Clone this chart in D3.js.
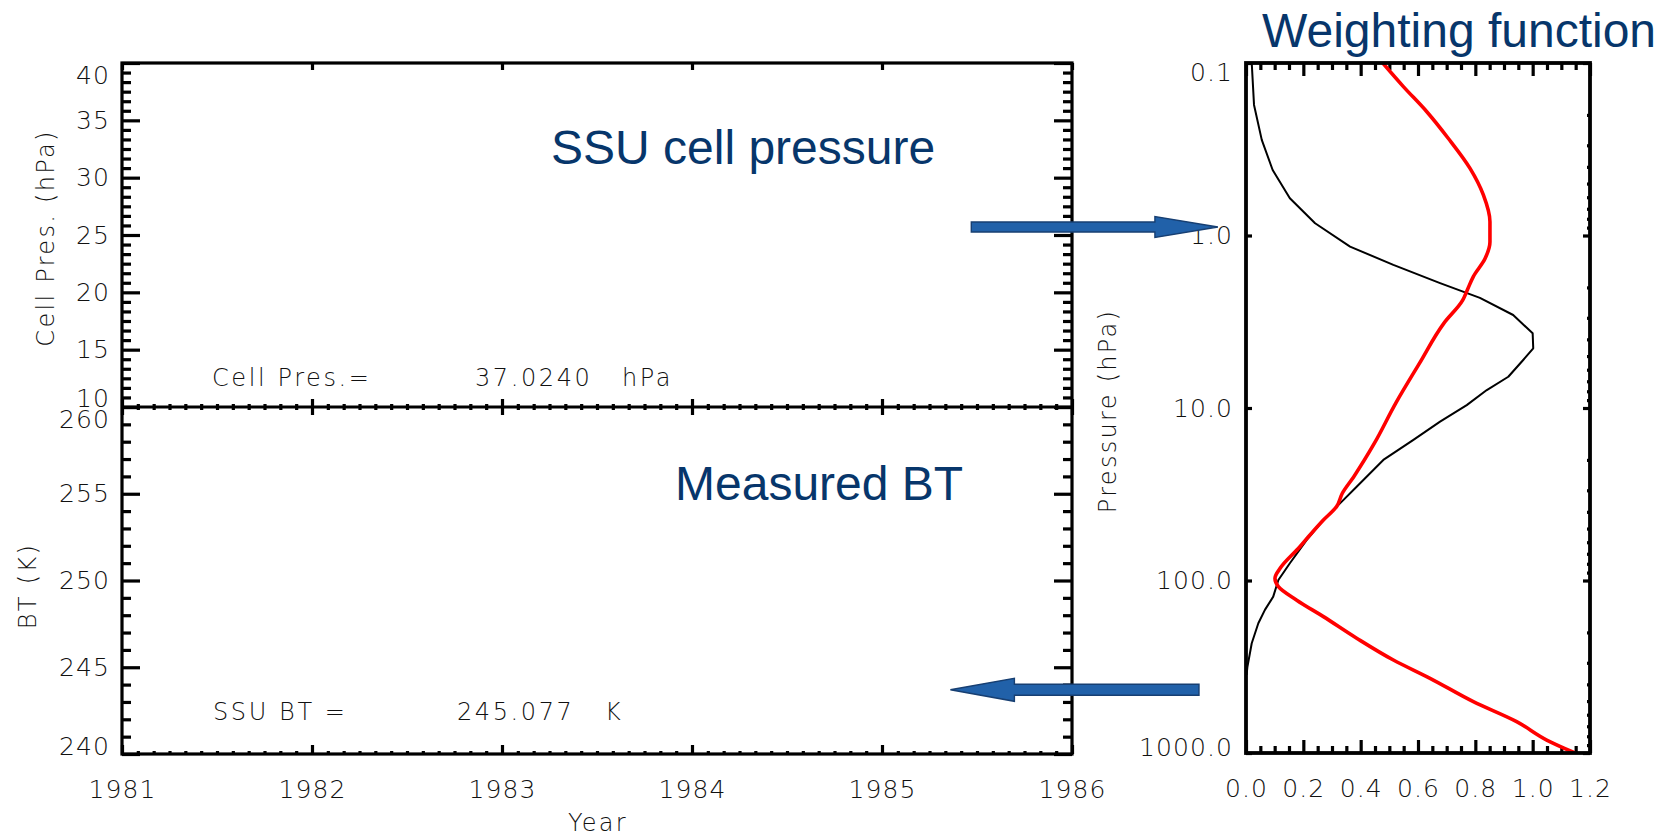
<!DOCTYPE html>
<html>
<head>
<meta charset="utf-8">
<script src="https://cdn.jsdelivr.net/npm/d3@7"></script>
<style>
  html, body { margin: 0; padding: 0; background: #fff; }
  svg { display: block; }
  .idl { font-family: "DejaVu Sans", sans-serif; font-weight: 200; fill: #111; }
  .title { font-family: "Liberation Sans", Arial, sans-serif; fill: #07366b; }
</style>
</head>
<body>
<svg id="chart" width="1664" height="839"></svg>
<script>
// ---- values ----
const yearTicks = [1981, 1982, 1983, 1984, 1985, 1986];
const cellTicks = [10, 15, 20, 25, 30, 35, 40];
const btTicks = [240, 245, 250, 255, 260];
const pressureTicks = [0.1, 1, 10, 100, 1000];
const weightTicks = [0, 0.2, 0.4, 0.6, 0.8, 1.0, 1.2];

const cellPressure = 37.0240;   // hPa
const ssuBT = 245.077;          // K

// black curve: channel weighting function (pressure hPa, weight)
const wfPres = [0.1, 0.175, 0.279, 0.417, 0.608, 0.849, 1.16, 1.48, 1.89, 2.30, 2.89, 3.69, 4.51, 5.27, 6.59, 7.87, 9.62, 12.0, 15.3, 20.0, 28.6, 35.7, 44.6, 58.2, 79.4, 99.4, 124, 148, 177, 231, 316, 353];
const wfValue = [0.020, 0.028, 0.055, 0.093, 0.153, 0.241, 0.363, 0.514, 0.677, 0.816, 0.932, 1.000, 1.002, 0.967, 0.915, 0.840, 0.770, 0.677, 0.584, 0.479, 0.386, 0.328, 0.270, 0.212, 0.153, 0.113, 0.095, 0.066, 0.043, 0.020, 0.005, 0.002];

// red curve: weighting function at the measured cell pressure
const rfPres = [0.1, 0.137, 0.191, 0.274, 0.407, 0.582, 0.832, 1.09, 1.36, 1.73, 2.07, 2.37, 3.23, 5.51, 9.40, 16.0, 25.0, 31.2, 37.3, 44.6, 54.5, 63.7, 85.0, 97.0, 108.6, 130, 162, 216, 289, 369, 504, 658, 841, 1000];
const rfValue = [0.477, 0.549, 0.630, 0.706, 0.781, 0.828, 0.851, 0.851, 0.834, 0.793, 0.772, 0.756, 0.690, 0.605, 0.522, 0.448, 0.376, 0.336, 0.316, 0.270, 0.223, 0.188, 0.119, 0.101, 0.113, 0.177, 0.270, 0.386, 0.514, 0.642, 0.793, 0.944, 1.049, 1.148];

// ---- layout ----
const svg = d3.select("#chart");
svg.append("rect").attr("width", 1664).attr("height", 839).attr("fill", "#fff");

const L = { left: 122, right: 1072, top: 63, mid: 407, bottom: 754 };
const R = { left: 1246, right: 1590, top: 63, bottom: 753 };

const xYear = d3.scaleLinear().domain([1981, 1986]).range([L.left, L.right]);
const yCell = d3.scaleLinear().domain([10, 40]).range([L.mid, L.top]);
const yBT = d3.scaleLinear().domain([240, 260]).range([L.bottom, L.mid]);
const xW = d3.scaleLinear().domain([0, 1.2]).range([R.left, R.right]);
const yP = d3.scaleLog().domain([0.1, 1000]).range([R.top, R.bottom]);

const AXW = 3.2;

function addAxis(gen, tx, ty, labelled) {
  const g = svg.append("g").attr("transform", `translate(${tx},${ty})`).call(gen);
  g.select(".domain").remove();
  g.selectAll(".tick line").attr("stroke", "#000").attr("stroke-width", AXW);
  if (!labelled) g.selectAll(".tick text").remove();
  else g.selectAll(".tick text").attr("class", "idl").attr("font-size", 25).attr("fill", "#111")
        .style("letter-spacing", "1.1px");
  return g;
}

// keep the end labels of a vertical axis inside the frame
function clampLabels(g, scale, lo, hi) {
  g.selectAll(".tick text").attr("y", d => {
    const y = scale(d);
    if (y < lo) return lo - y;
    if (y > hi) return hi - y;
    return 0;
  });
}

const noFmt = () => "";

// ---- left panels ----
const yearMinor = d3.range(1981, 1986.0001, 1 / 12).filter(v => Math.abs(v - Math.round(v)) > 1e-6);
const cellMinor = d3.range(0, 36).map(i => 10 + i * 5 / 6).filter(v => Math.abs(v / 5 - Math.round(v / 5)) > 1e-6);
const btMinor = d3.range(240, 261, 1).filter(v => v % 5 !== 0);

// upper panel y axes
let g = addAxis(d3.axisLeft(yCell).tickValues(cellTicks).tickSize(-18).tickPadding(12).tickFormat(d3.format("d")), L.left, 0, true);
clampLabels(g, yCell, L.top + 12, L.mid - 9);
addAxis(d3.axisLeft(yCell).tickValues(cellMinor).tickSize(-9).tickFormat(noFmt), L.left, 0, false);
addAxis(d3.axisRight(yCell).tickValues(cellTicks).tickSize(-18).tickFormat(noFmt), L.right, 0, false);
addAxis(d3.axisRight(yCell).tickValues(cellMinor).tickSize(-9).tickFormat(noFmt), L.right, 0, false);
// upper panel x axes
addAxis(d3.axisTop(xYear).tickValues(yearTicks).tickSize(-7).tickFormat(noFmt), 0, L.top, false);
addAxis(d3.axisBottom(xYear).tickValues(yearTicks).tickSize(-8).tickFormat(noFmt), 0, L.mid, false);
addAxis(d3.axisBottom(xYear).tickValues(yearMinor).tickSize(-3).tickFormat(noFmt), 0, L.mid, false);

// lower panel y axes
g = addAxis(d3.axisLeft(yBT).tickValues(btTicks).tickSize(-18).tickPadding(12).tickFormat(d3.format("d")), L.left, 0, true);
clampLabels(g, yBT, L.mid + 12, L.bottom - 8);
addAxis(d3.axisLeft(yBT).tickValues(btMinor).tickSize(-9).tickFormat(noFmt), L.left, 0, false);
addAxis(d3.axisRight(yBT).tickValues(btTicks).tickSize(-18).tickFormat(noFmt), L.right, 0, false);
addAxis(d3.axisRight(yBT).tickValues(btMinor).tickSize(-9).tickFormat(noFmt), L.right, 0, false);
// lower panel x axes
addAxis(d3.axisTop(xYear).tickValues(yearTicks).tickSize(-8).tickFormat(noFmt), 0, L.mid, false);
addAxis(d3.axisTop(xYear).tickValues(yearMinor).tickSize(-3).tickFormat(noFmt), 0, L.mid, false);
addAxis(d3.axisBottom(xYear).tickValues(yearTicks).tickSize(-9).tickPadding(26).tickFormat(d3.format("d")), 0, L.bottom, true);
addAxis(d3.axisBottom(xYear).tickValues(yearMinor).tickSize(-3).tickFormat(noFmt), 0, L.bottom, false);

// frames
svg.append("rect").attr("x", L.left).attr("y", L.top).attr("width", L.right - L.left).attr("height", L.bottom - L.top)
  .attr("fill", "none").attr("stroke", "#000").attr("stroke-width", AXW);
svg.append("line").attr("x1", L.left).attr("x2", L.right).attr("y1", L.mid).attr("y2", L.mid)
  .attr("stroke", "#000").attr("stroke-width", AXW);

// axis titles
function axisTitle(txt, x, y, rot) {
  svg.append("text").attr("class", "idl").attr("font-size", 24).style("letter-spacing", "2.3px")
    .attr("text-anchor", "middle").attr("dominant-baseline", "central")
    .attr("transform", `translate(${x},${y})` + (rot ? " rotate(-90)" : "")).text(txt);
}
axisTitle("Cell Pres. (hPa)", 46, 238, true);
axisTitle("BT (K)", 28, 586, true);
axisTitle("Year", (L.left + L.right) / 2 + 1, 823, false);

// value read-outs
function readout(label, value, unit, xl, xv, xu, y) {
  const t = svg.append("g").style("letter-spacing", "2.6px");
  t.append("text").attr("class", "idl").attr("font-size", 24).attr("x", xl).attr("y", y).text(label);
  t.append("text").attr("class", "idl").attr("font-size", 24).attr("x", xv).attr("y", y).text(value);
  t.append("text").attr("class", "idl").attr("font-size", 24).attr("x", xu).attr("y", y).text(unit);
}
readout("Cell Pres.=", d3.format(".4f")(cellPressure), "hPa", 212, 475, 622, 386);
readout("SSU BT =", d3.format(".3f")(ssuBT), "K", 213, 457, 605, 720);

// ---- weighting function panel ----
const minorLog = [];
[0.1, 1, 10, 100].forEach(dec => { for (let k = 2; k <= 9; k++) minorLog.push(dec * k); });
const wMinor = d3.range(0, 1.2001, 0.05).filter(v => Math.abs(v / 0.2 - Math.round(v / 0.2)) > 1e-6);

g = addAxis(d3.axisLeft(yP).tickValues(pressureTicks).tickSize(-6).tickPadding(13).tickFormat(d3.format(".1f")), R.left, 0, true);
clampLabels(g, yP, R.top + 9, R.bottom - 6);
addAxis(d3.axisRight(yP).tickValues(pressureTicks).tickSize(-7).tickFormat(noFmt), R.right, 0, false);
addAxis(d3.axisRight(yP).tickValues(minorLog).tickSize(-3).tickFormat(noFmt), R.right, 0, false);
addAxis(d3.axisBottom(xW).tickValues(weightTicks).tickSize(-13).tickPadding(26).tickFormat(d3.format(".1f")), 0, R.bottom, true);
addAxis(d3.axisBottom(xW).tickValues(wMinor).tickSize(-7).tickFormat(noFmt), 0, R.bottom, false);
addAxis(d3.axisTop(xW).tickValues(weightTicks).tickSize(-13).tickFormat(noFmt), 0, R.top, false);
addAxis(d3.axisTop(xW).tickValues(wMinor).tickSize(-7).tickFormat(noFmt), 0, R.top, false);

svg.append("defs").append("clipPath").attr("id", "wfclip")
  .append("rect").attr("x", R.left).attr("y", R.top).attr("width", R.right - R.left).attr("height", R.bottom - R.top);

const lineLin = d3.line().x(d => xW(d[1])).y(d => yP(d[0]));
const lineSmooth = d3.line().x(d => xW(d[1])).y(d => yP(d[0])).curve(d3.curveMonotoneY);
svg.append("path").attr("clip-path", "url(#wfclip)")
  .attr("d", lineLin(d3.zip(wfPres, wfValue))).attr("fill", "none").attr("stroke", "#000").attr("stroke-width", 2)
  .attr("stroke-linejoin", "round");
svg.append("path").attr("clip-path", "url(#wfclip)")
  .attr("d", lineSmooth(d3.zip(rfPres, rfValue))).attr("fill", "none").attr("stroke", "#ff0000").attr("stroke-width", 3.6)
  .attr("stroke-linejoin", "round");

svg.append("rect").attr("x", R.left).attr("y", R.top).attr("width", R.right - R.left).attr("height", R.bottom - R.top)
  .attr("fill", "none").attr("stroke", "#000").attr("stroke-width", AXW + 0.6);

axisTitle("Pressure (hPa)", 1108, 411, true);

// ---- headings ----
svg.append("text").attr("class", "title").attr("font-size", 48).attr("x", 551).attr("y", 164).text("SSU cell pressure");
svg.append("text").attr("class", "title").attr("font-size", 48).attr("x", 675).attr("y", 500).text("Measured BT");
svg.append("text").attr("class", "title").attr("font-size", 48).attr("x", 1262).attr("y", 47).text("Weighting function");

// ---- block arrows linking the panels ----
function blockArrow(x0, x1, y, shaft, head, headLen) {
  const s = Math.sign(x1 - x0);
  const xb = x1 - s * headLen;
  const pts = [[x0, y - shaft / 2], [xb, y - shaft / 2], [xb, y - head / 2], [x1, y],
               [xb, y + head / 2], [xb, y + shaft / 2], [x0, y + shaft / 2]];
  svg.append("path").attr("d", d3.line()(pts) + "Z")
    .attr("fill", "#2161a9").attr("stroke", "#173f72").attr("stroke-width", 1.4).attr("stroke-linejoin", "miter");
}
// cell pressure feeds the weighting function
blockArrow(xYear(1985.47), xW(-0.098), yCell(25.7), 10, 21, 63);
// weighting function gives the measured brightness temperature
blockArrow(xW(-0.164), xYear(1985.36), yBT(243.7), 11, 23, 64);
</script>
</body>
</html>
